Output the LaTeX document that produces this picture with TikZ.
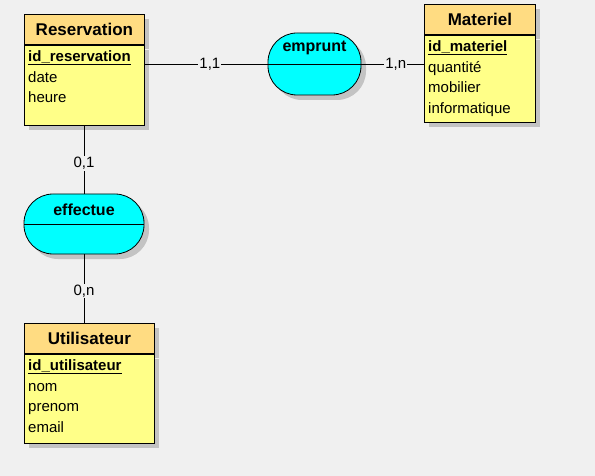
\documentclass[tikz,border=0pt]{standalone}
\usepackage{fontspec}
\setmainfont{Liberation Sans}
\usetikzlibrary{shadows}
\definecolor{fondC}{HTML}{F0F0F0}
\definecolor{enteteC}{HTML}{FFDC82}
\definecolor{corpsC}{HTML}{FFFF88}
\definecolor{relC}{HTML}{00FFFF}
\definecolor{ombreC}{HTML}{C3C3C3}
\tikzset{
  ombre/.style={drop shadow={shadow xshift=5pt,shadow yshift=-5pt,fill=ombreC,opacity=1}},
  entete/.style={draw,fill=enteteC,line width=0.8pt,ombre,anchor=north west,
    minimum height=30pt,inner sep=0pt,font=\fontsize{17}{20}\selectfont\bfseries},
  corps/.style={draw,fill=corpsC,line width=0.8pt,ombre,anchor=north west,inner sep=0pt},
  attr/.style={anchor=north west,align=left,inner xsep=4pt,inner ysep=5.5pt,
    font=\fontsize{15}{20.7}\selectfont},
  rel/.style={draw,fill=relC,line width=0.8pt,ombre,rounded corners=29pt,inner sep=0pt,
    path picture={\draw[line width=0.8pt] (path picture bounding box.west) -- (path picture bounding box.east);}},
  nomrel/.style={font=\fontsize{16}{18}\selectfont\bfseries},
  card/.style={fill=fondC,inner sep=1pt,font=\fontsize{15}{18}\selectfont},
  lien/.style={line width=0.8pt}
}
\begin{document}
\begin{tikzpicture}[x=1pt,y=-1pt]
  % fond
  \fill[fondC] (0,0) rectangle (595,476);

  % entites
  \node[entete,minimum width=120pt] (res) at (24,14) {Reservation};
  \node[corps,minimum width=120pt,minimum height=80pt] (resb) at (res.south west) {};
  \node[attr] (resa) at (resb.north west) {\underline{\textbf{id\_reservation}}\\date\\heure};

  \node[entete,minimum width=111pt] (mat) at (424,4) {Materiel};
  \node[corps,minimum width=111pt,minimum height=87pt] (matb) at (mat.south west) {};
  \node[attr] (mata) at (matb.north west) {\underline{\textbf{id\_materiel}}\\quantité\\mobilier\\informatique};

  \node[entete,minimum width=130pt] (uti) at (24,323) {Utilisateur};
  \node[corps,minimum width=130pt,minimum height=89pt] (utib) at (uti.south west) {};
  \node[attr] (utia) at (utib.north west) {\underline{\textbf{id\_utilisateur}}\\nom\\prenom\\email};

  % associations
  \node[rel,minimum width=93pt,minimum height=62pt] (emp) at (314.5,64) {};
  \node[nomrel] (empn) at ([yshift=16pt]emp.center) {emprunt};
  \node[rel,minimum width=120pt,minimum height=60pt] (eff) at (84,224) {};
  \node[nomrel] (effn) at ([yshift=14pt]eff.center) {effectue};

  % liens
  \draw[lien] (emp.west -| resb.east) -- node[card,pos=0.53] {1,1} (emp.west);
  \draw[lien] (emp.east) -- node[card,pos=0.55] {1,n} (emp.east -| matb.west);
  \draw[lien] (eff.north |- resb.south) -- node[card,pos=0.56] {0,1} (eff.north);
  \draw[lien] (eff.south) -- node[card,pos=0.53] {0,n} (eff.south |- uti.north);
\end{tikzpicture}
\end{document}
